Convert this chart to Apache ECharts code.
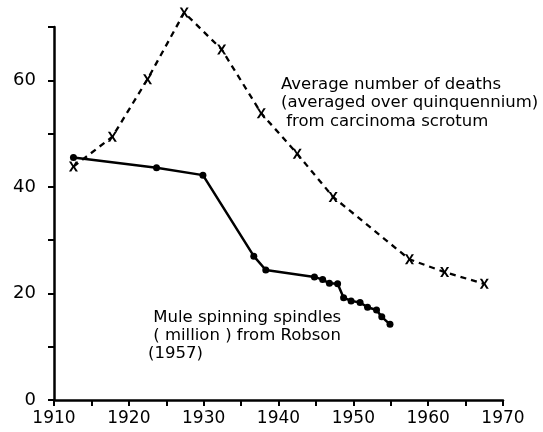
<!DOCTYPE html>
<html>
<head>
<meta charset="utf-8">
<script src="https://cdn.jsdelivr.net/npm/echarts@6/dist/echarts.min.js"></script>
<style>
  html, body { margin: 0; padding: 0; background: #fff; }
  #chart { width: 543px; height: 432px; }
</style>
</head>
<body>
<div id="chart"></div>
<script>
// Deaths from carcinoma scrotum (quinquennial averages)
const deathYears = [1912.6, 1917.8, 1922.5, 1927.4, 1932.4, 1937.7, 1942.5, 1947.3, 1957.5, 1962.2, 1967.5];
const deathValues = [43.8, 49.4, 60.2, 72.7, 65.8, 53.8, 46.2, 38.1, 26.4, 24.0, 21.8];

// Mule spinning spindles, millions (Robson 1957)
const spindleYears = [1912.6, 1923.7, 1929.9, 1936.7, 1938.3, 1944.8, 1945.9, 1946.8, 1947.9, 1948.7, 1949.7, 1950.9, 1951.9, 1953.1, 1953.8, 1954.9];
const spindleValues = [45.5, 43.6, 42.2, 27.0, 24.4, 23.1, 22.6, 21.9, 21.8, 19.2, 18.6, 18.3, 17.4, 16.9, 15.6, 14.2];

// Axis ranges
const xRange = [1910, 1970];
const yRange = [0, 70];

const pairs = (xs, ys) => xs.map((x, i) => [x, ys[i]]);

const font = '"DejaVu Sans", sans-serif';
const crossSymbol = 'path://M0,0 L2.6,0 L5,3.6 L7.4,0 L10,0 L6.4,5 L10,10 L7.4,10 L5,6.4 L2.6,10 L0,10 L3.6,5 Z';

const chart = echarts.init(document.getElementById('chart'));

const option = {
    backgroundColor: '#fff',
    animation: false,
    grid: {
        left: 54,
        right: 40,
        top: 27,
        bottom: 32
    },
    xAxis: {
        type: 'value',
        min: xRange[0],
        max: xRange[1],
        interval: 5,
        splitLine: { show: false },
        axisLine: { lineStyle: { color: '#000', width: 2.5 } },
        axisTick: { length: 6, lineStyle: { color: '#000', width: 2 } },
        axisLabel: {
            margin: 10,
            color: '#000',
            fontFamily: font,
            fontSize: 17,
            formatter: v => (v % 10 === 0 ? String(v) : '')
        }
    },
    yAxis: {
        type: 'value',
        min: yRange[0],
        max: yRange[1],
        interval: 10,
        splitLine: { show: false },
        axisLine: { show: true, lineStyle: { color: '#000', width: 2.5 } },
        axisTick: { show: true, length: 6, lineStyle: { color: '#000', width: 2 } },
        axisLabel: {
            margin: 18,
            color: '#000',
            fontFamily: font,
            fontSize: 18,
            formatter: v => (v % 20 === 0 ? String(v) : '')
        }
    },
    series: [
        {
            name: 'Deaths',
            type: 'line',
            data: pairs(deathYears, deathValues),
            clip: false,
            symbol: crossSymbol,
            symbolSize: [9, 10],
            itemStyle: { color: '#000' },
            lineStyle: { color: '#000', width: 2.3, type: [6, 5] },
            z: 3
        },
        {
            name: 'Spindles',
            type: 'line',
            data: pairs(spindleYears, spindleValues),
            clip: false,
            symbol: 'circle',
            symbolSize: 7,
            itemStyle: { color: '#000' },
            lineStyle: { color: '#000', width: 2.5 },
            z: 4
        }
    ],
    graphic: [
        {
            type: 'text',
            left: 281,
            top: 75,
            style: {
                text: 'Average number of deaths\n(averaged over quinquennium)\n from carcinoma scrotum',
                font: '16.5px ' + font,
                fill: '#000',
                lineHeight: 18.5
            }
        },
        {
            type: 'text',
            left: 148,
            top: 309,
            style: {
                text: ' Mule spinning spindles\n ( million ) from Robson\n(1957)',
                font: '16.5px ' + font,
                fill: '#000',
                lineHeight: 18
            }
        }
    ]
};

chart.setOption(option);
</script>
</body>
</html>
